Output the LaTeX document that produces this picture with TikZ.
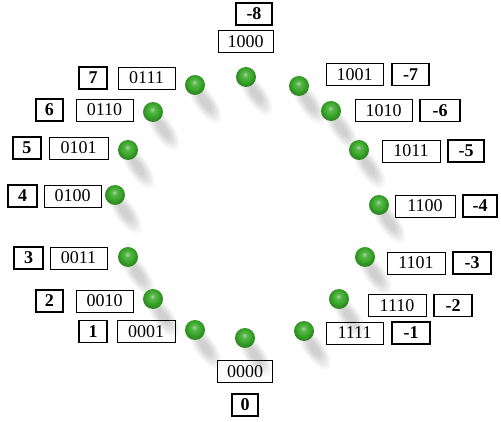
\documentclass[tikz,border=0pt]{standalone}
\usepackage{fontspec}
\setmainfont{Liberation Serif}
\definecolor{dotgreen}{RGB}{58,168,42}
\pgfdeclareradialshading{greenball}{\pgfpoint{-2bp}{7bp}}{%
  color(0bp)=(dotgreen!45!white);
  color(7bp)=(dotgreen!85!white);
  color(16bp)=(dotgreen);
  color(25bp)=(dotgreen!80!black);
  color(50bp)=(dotgreen!80!black)}
\begin{document}
\begin{tikzpicture}[x=1pt,y=-1pt,
  bin/.style={draw, line width=0.9pt, minimum width=57pt, minimum height=22pt, inner sep=0pt, font=\fontsize{18}{18}\selectfont},
  dec/.style={draw, line width=1.2pt, minimum height=22pt, inner sep=0pt, font=\fontsize{18}{18}\selectfont\bfseries},
  dot/.style={circle, minimum size=20pt, inner sep=0pt, shading=greenball},
  shad/.style={fill=black, opacity=0.03}]
\useasboundingbox (0,0) rectangle (501,422);
\fill[white] (0,0) rectangle (501,422);
% shadows
\foreach \x/\y in {245/338,195/330,153/299,128/257,115/195,128/150,153/112,195/85,246/77,299/86,331/111,359/150,379/205,365/257,339/299,304/331}{
  \foreach \r in {0,...,5}{
    \fill[shad] (\x+10,\y+17) ellipse [x radius=25-3*\r, y radius=10-1.3*\r, rotate=-55];
  }
}
% dots
\node[dot] (d0)  at (245,338) {};
\node[dot] (d1)  at (195,330) {};
\node[dot] (d2)  at (153,299) {};
\node[dot] (d3)  at (128,257) {};
\node[dot] (d4)  at (115,195) {};
\node[dot] (d5)  at (128,150) {};
\node[dot] (d6)  at (153,112) {};
\node[dot] (d7)  at (195,85) {};
\node[dot] (d8)  at (246,77) {};
\node[dot] (d9)  at (299,86) {};
\node[dot] (d10) at (331,111) {};
\node[dot] (d11) at (359,150) {};
\node[dot] (d12) at (379,205) {};
\node[dot] (d13) at (365,257) {};
\node[dot] (d14) at (339,299) {};
\node[dot] (d15) at (304,331) {};
% labels
\node[dec, minimum width=36pt] (n8) at (254,14) {-8};
\node[bin, minimum width=55pt] (b8) at (245.5,41.5) {1000};
\node[dec, minimum width=28pt] (p7) at (93,78) {7};
\node[bin] (b7) at (146.5,78) {0111};
\node[dec, minimum width=27pt] (p6) at (49.5,110) {6};
\node[bin] (b6) at (104.5,110) {0110};
\node[dec, minimum width=28pt] (p5) at (27,148) {5};
\node[bin, minimum width=59pt] (b5) at (78.5,148) {0101};
\node[dec, minimum width=29pt] (p4) at (22.5,196) {4};
\node[bin] (b4) at (72.5,196) {0100};
\node[dec, minimum width=29pt] (p3) at (28.5,258) {3};
\node[bin] (b3) at (78.5,258) {0011};
\node[dec, minimum width=27pt] (p2) at (49.5,301) {2};
\node[bin] (b2) at (104.5,301) {0010};
\node[dec, minimum width=28pt] (p1) at (93,331.5) {1};
\node[bin, minimum width=58pt] (b1) at (146,331.5) {0001};
\node[bin, minimum width=55pt] (b0) at (245,371.5) {0000};
\node[dec, minimum width=26pt] (p0) at (245,405) {0};
\node[bin] (b9) at (354.5,74.5) {1001};
\node[dec, minimum width=37pt] (n7) at (410.5,74.5) {-7};
\node[bin] (b10) at (383.5,110.5) {1010};
\node[dec, minimum width=40pt] (n6) at (440,110.5) {-6};
\node[bin, minimum width=58pt] (b11) at (411,151) {1011};
\node[dec, minimum width=36pt] (n5) at (466,151) {-5};
\node[bin, minimum width=60pt] (b12) at (425,206) {1100};
\node[dec, minimum width=34pt] (n4) at (480,206) {-4};
\node[bin, minimum width=58pt] (b13) at (416,263) {1101};
\node[dec, minimum width=38pt] (n3) at (472,263) {-3};
\node[bin, minimum width=58pt] (b14) at (397,305.5) {1110};
\node[dec, minimum width=38pt] (n2) at (453,305.5) {-2};
\node[bin] (b15) at (354.5,333) {1111};
\node[dec, minimum width=38pt] (n1) at (411,333) {-1};
\end{tikzpicture}
\end{document}
